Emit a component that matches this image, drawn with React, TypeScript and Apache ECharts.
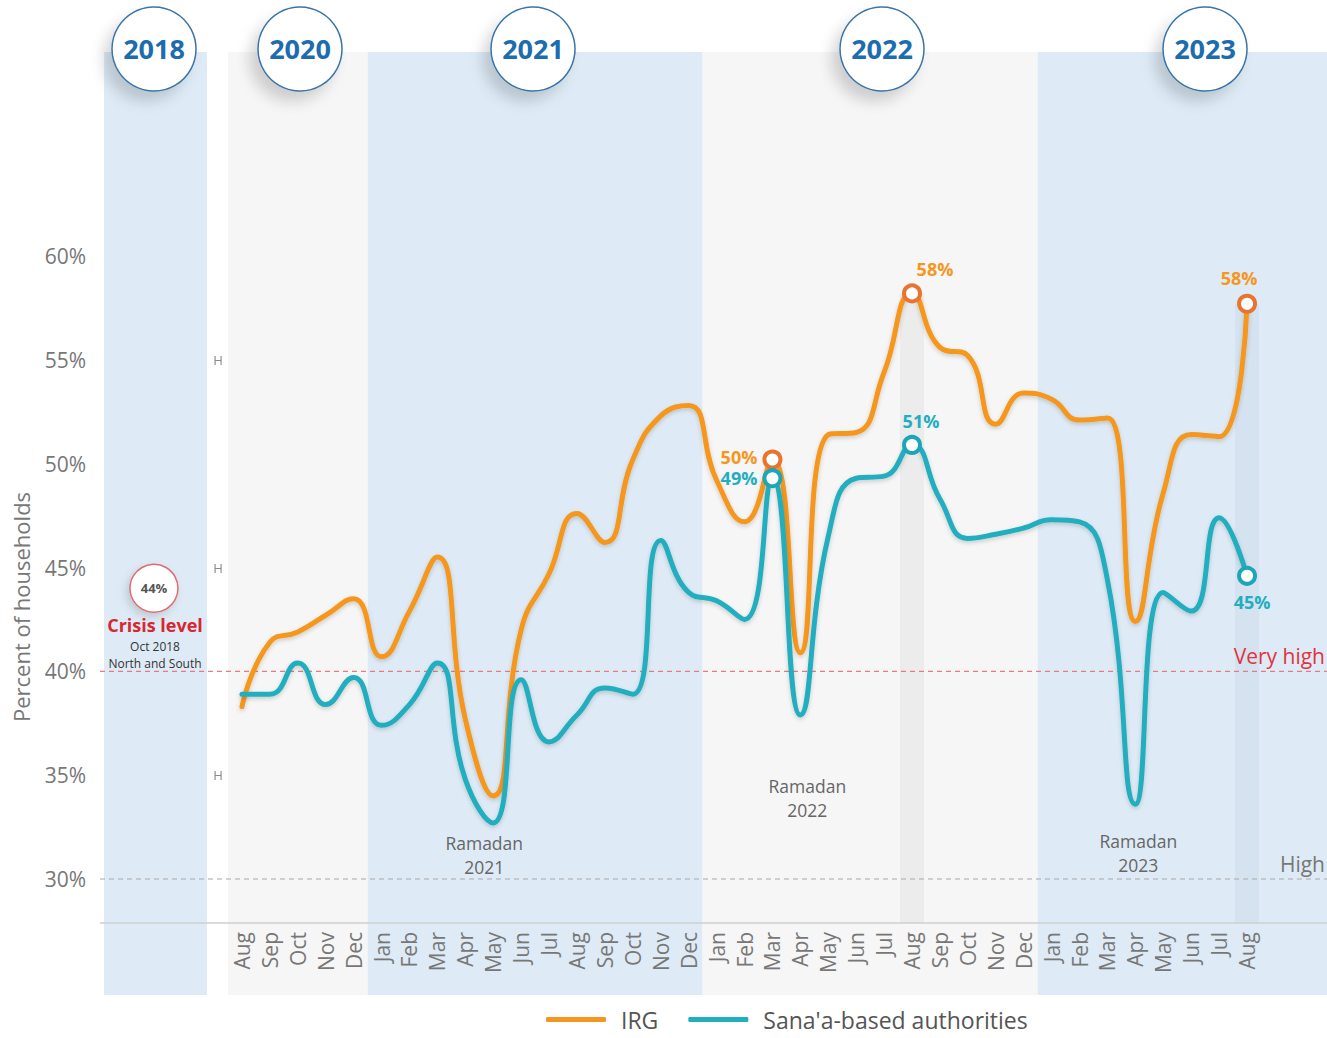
import React, { useEffect, useRef } from "react";
import * as echarts from "echarts";

const months = [
  "Aug 2020", "Sep 2020", "Oct 2020", "Nov 2020", "Dec 2020",
  "Jan 2021", "Feb 2021", "Mar 2021", "Apr 2021", "May 2021", "Jun 2021",
  "Jul 2021", "Aug 2021", "Sep 2021", "Oct 2021", "Nov 2021", "Dec 2021",
  "Jan 2022", "Feb 2022", "Mar 2022", "Apr 2022", "May 2022", "Jun 2022",
  "Jul 2022", "Aug 2022", "Sep 2022", "Oct 2022", "Nov 2022", "Dec 2022",
  "Jan 2023", "Feb 2023", "Mar 2023", "Apr 2023", "May 2023", "Jun 2023",
  "Jul 2023", "Aug 2023",
];

const irg = [
  38.3, 41.4, 41.9, 42.7, 43.5,
  40.7, 42.9, 45.5, 37.7, 34.0, 42.0, 44.7, 47.6, 46.2, 50.2, 52.3, 52.8,
  49.2, 47.2, 50.2, 40.9, 51.4, 51.5, 54.4, 58.2, 55.6, 55.2, 51.9, 53.4,
  53.1, 52.1, 52.2, 42.4, 48.6, 51.4, 51.3, 57.7,
];

const sanaa = [
  38.9, 38.9, 40.4, 38.4, 39.7,
  37.4, 38.4, 40.4, 34.8, 32.7, 39.6, 36.6, 37.9, 39.2, 38.9, 46.3, 43.8,
  43.4, 42.5, 49.3, 37.9, 46.5, 49.3, 49.4, 50.9, 48.3, 46.4, 46.6, 46.9,
  47.3, 47.2, 44.4, 33.6, 43.8, 42.9, 47.4, 44.6,
];

const seriesNames = ["IRG", "Sana'a-based authorities"];
const highlightIdx = [19, 24, 36];
const irgLabels = ["50%", "58%", "58%"];
const sanaaLabels = ["49%", "51%", "45%"];

const yearBands = [
  { year: "2020", from: "Aug 2020", to: "Dec 2020", tone: "gray" },
  { year: "2021", from: "Jan 2021", to: "Dec 2021", tone: "blue" },
  { year: "2022", from: "Jan 2022", to: "Dec 2022", tone: "gray" },
  { year: "2023", from: "Jan 2023", to: "", tone: "blue" },
];

const crisisValue = 44;
const crisisLabel = "44%";
const thresholds = [
  { value: 40, label: "Very high" },
  { value: 30, label: "High" },
];
const ramadanYears = ["2021", "2022", "2023"];

const FONT = "'Open Sans', 'Noto Sans', sans-serif";
const ORANGE = "#F5971F";
const ORANGE_DARK = "#E8742F";
const TEAL = "#22AEBF";
const TEAL_DARK = "#1CA6B7";
const BLUE_BG = "#deebf6";
const GRAY_BG = "#f6f6f6";

export default function App() {
  const ref = useRef<HTMLDivElement>(null);

  useEffect(() => {
    const chart = echarts.init(ref.current!, null, { renderer: "svg" });

    const mkLabel = (color: string) => ({
      show: true,
      formatter: (p: any) => p.name,
      color,
      fontSize: 18,
      fontWeight: "bold",
      fontFamily: FONT,
    });

    const irgPos = [
      { position: "left", distance: 5, offset: [0, -3] },
      { position: "top", distance: 5, offset: [23, 0] },
      { position: "top", distance: 7, offset: [-8, 0] },
    ];
    const sanaaPos = [
      { position: "left", distance: 5, offset: [0, 0] },
      { position: "top", distance: 5, offset: [9, 0] },
      { position: "bottom", distance: 7, offset: [5, 0] },
    ];

    chart.setOption({
      animation: false,
      textStyle: { fontFamily: FONT },
      grid: { left: 228, right: 66, top: 256, bottom: 159, containLabel: false },
      legend: {
        data: seriesNames,
        left: 541,
        top: 1003,
        icon: "roundRect",
        itemWidth: 60,
        itemHeight: 5,
        itemGap: 30,
        textStyle: { fontSize: 23, color: "#555", fontFamily: FONT, padding: [0, 0, 0, 10] },
      },
      xAxis: {
        type: "category",
        data: months,
        boundaryGap: true,
        offset: 44,
        axisLine: { show: false },
        axisTick: { show: false },
        splitLine: { show: false },
        axisLabel: {
          rotate: 90,
          interval: 0,
          margin: 9,
          fontSize: 21,
          color: "#777",
          fontFamily: FONT,
          formatter: (v: string) => v.split(" ")[0],
        },
      },
      yAxis: {
        type: "value",
        min: 30,
        max: 60,
        interval: 5,
        axisLine: { show: false },
        axisTick: { show: false },
        splitLine: { show: false },
        axisLabel: {
          formatter: "{value}%",
          fontSize: 21,
          color: "#777",
          margin: 142,
          fontFamily: FONT,
        },
      },
      series: [
        {
          name: seriesNames[0],
          type: "line",
          data: irg,
          smooth: 0.5,
          symbol: "none",
          color: ORANGE,
          itemStyle: { color: ORANGE },
          lineStyle: {
            width: 5,
            color: ORANGE,
            cap: "round",
            join: "round",
            shadowColor: "rgba(0,0,0,0.18)",
            shadowBlur: 4,
            shadowOffsetY: 2,
          },
          z: 3,
          markPoint: {
            symbol: "circle",
            symbolSize: 16,
            itemStyle: { color: "#fff", borderColor: ORANGE_DARK, borderWidth: 4 },
            data: highlightIdx.map((i, k) => ({
              name: irgLabels[k],
              coord: [months[i], irg[i]],
              value: irg[i],
              label: { ...mkLabel(ORANGE), ...irgPos[k] },
            })),
          },
        },
        {
          name: seriesNames[1],
          type: "line",
          data: sanaa,
          smooth: 0.5,
          symbol: "none",
          color: TEAL,
          itemStyle: { color: TEAL },
          lineStyle: {
            width: 5,
            color: TEAL,
            cap: "round",
            join: "round",
            shadowColor: "rgba(0,0,0,0.18)",
            shadowBlur: 4,
            shadowOffsetY: 2,
          },
          z: 4,
          markPoint: {
            symbol: "circle",
            symbolSize: 16,
            itemStyle: { color: "#fff", borderColor: TEAL_DARK, borderWidth: 4 },
            data: highlightIdx.map((i, k) => ({
              name: sanaaLabels[k],
              coord: [months[i], sanaa[i]],
              value: sanaa[i],
              label: { ...mkLabel(TEAL), ...sanaaPos[k] },
            })),
          },
        },
      ],
    });

    const X = (c: string) => chart.convertToPixel({ xAxisIndex: 0 }, c) as number;
    const Y = (v: number) => chart.convertToPixel({ yAxisIndex: 0 }, v) as number;
    const half = (X(months[1]) - X(months[0])) / 2;
    const W = 1327;
    const bandTop = 52;
    const bandBottom = 995;
    const axisY = Y(30) + 44;

    const txt = (text: string, x: number, y: number, o: any = {}) => {
      const fs = o.fontSize ?? 17;
      return {
        type: "text",
        x,
        y,
        z: o.z ?? 20,
        rotation: o.rotation ?? 0,
        silent: true,
        style: {
          text,
          fill: o.fill ?? "#666",
          fontSize: fs,
          fontWeight: o.fontWeight ?? "normal",
          fontFamily: FONT,
          align: o.align ?? "center",
          textAlign: o.align ?? "center",
          verticalAlign: "middle",
          textVerticalAlign: "middle",
          lineHeight: o.lineHeight ?? Math.round(fs * 1.05),
        },
      };
    };

    const g: any[] = [];
    g.push({
      type: "rect",
      z: -10,
      silent: true,
      shape: { x: 104, y: bandTop, width: 103, height: bandBottom - bandTop },
      style: { fill: BLUE_BG },
    });
    yearBands.forEach((b) => {
      const x0 = X(b.from) - half;
      const x1 = b.to ? X(b.to) + half : W;
      g.push({
        type: "rect",
        z: -10,
        silent: true,
        shape: { x: x0, y: bandTop, width: x1 - x0, height: bandBottom - bandTop },
        style: { fill: b.tone === "blue" ? BLUE_BG : GRAY_BG },
      });
    });
    [24, 36].forEach((i) => {
      const cx = X(months[i]);
      const top = Y(irg[i]);
      g.push({
        type: "rect",
        z: -9,
        silent: true,
        shape: { x: cx - 12, y: top, width: 24, height: axisY - top },
        style: { fill: i === 24 ? "#ececec" : "#d5e2ef" },
      });
    });
    g.push({
      type: "line",
      z: -5,
      silent: true,
      shape: { x1: 100, y1: axisY, x2: W, y2: axisY },
      style: { stroke: "#cfcfcf", lineWidth: 1.5 },
    });
    thresholds.forEach((t, k) => {
      const y = Y(t.value);
      g.push({
        type: "line",
        z: -5,
        silent: true,
        shape: { x1: 100, y1: y, x2: W, y2: y },
        style: {
          stroke: k === 0 ? "#e57b83" : "#a8a8a8",
          lineWidth: 1.2,
          lineDash: [5, 4],
        },
      });
      g.push(
        txt(t.label, W - 2, y - 15, {
          align: "right",
          fill: k === 0 ? "#e0353d" : "#777",
          fontSize: 21,
        })
      );
    });
    [55, 45, 35].forEach((v) => {
      g.push(txt("H", 218, Y(v), { fontSize: 13, fill: "#8a8a8a" }));
    });
    g.push(
      txt("Percent of households", 21, 607, {
        rotation: Math.PI / 2,
        fontSize: 22,
        fill: "#777",
      })
    );
    const badgeX = [154, 300, 533, 882, 1205];
    const badgeYears = ["2018", ...yearBands.map((b) => b.year)];
    badgeYears.forEach((yr, k) => {
      g.push({
        type: "circle",
        z: 10,
        silent: true,
        shape: { cx: badgeX[k], cy: 49, r: 42 },
        style: {
          fill: "#fff",
          stroke: "#3a74a8",
          lineWidth: 1.5,
          shadowBlur: 14,
          shadowOffsetX: -8,
          shadowOffsetY: 10,
          shadowColor: "rgba(0,0,0,0.16)",
        },
      });
      g.push(
        txt(yr, badgeX[k], 48, {
          z: 11,
          fontSize: 27,
          fontWeight: "bold",
          fill: "#1c6cb0",
        })
      );
    });
    const cy = Y(crisisValue);
    g.push({
      type: "circle",
      z: 10,
      silent: true,
      shape: { cx: 154, cy, r: 24 },
      style: {
        fill: "#fff",
        stroke: "#e26b6e",
        lineWidth: 1.5,
        shadowBlur: 8,
        shadowOffsetX: -3,
        shadowOffsetY: 4,
        shadowColor: "rgba(0,0,0,0.15)",
      },
    });
    g.push(txt(crisisLabel, 154, cy, { z: 11, fontSize: 13, fontWeight: "bold", fill: "#555" }));
    g.push(txt("Crisis level", 155, cy + 37, { fontSize: 18, fontWeight: "bold", fill: "#d8262e", lineHeight: 18 }));
    g.push(txt("Oct 2018", 155, cy + 58, { fontSize: 12, fill: "#333", lineHeight: 12 }));
    g.push(txt("North and South", 155, cy + 75, { fontSize: 12, fill: "#333", lineHeight: 12 }));
    const ramadanPos = [
      [X("May 2021") - 9, 843],
      [X("Apr 2022") + 7, 786],
      [X("Apr 2023") + 3, 841],
    ];
    ramadanYears.forEach((yr, k) => {
      const [rx, ry] = ramadanPos[k];
      g.push(txt("Ramadan", rx, ry, { fontSize: 17.5, fill: "#666", lineHeight: 18 }));
      g.push(txt(yr, rx, ry + 24, { fontSize: 17.5, fill: "#666", lineHeight: 18 }));
    });

    chart.setOption({ graphic: g });

    return () => chart.dispose();
  }, []);

  return (
    <div
      ref={ref}
      style={{ position: "fixed", left: 0, top: 0, width: 1327, height: 1038, background: "#fff" }}
    />
  );
}
